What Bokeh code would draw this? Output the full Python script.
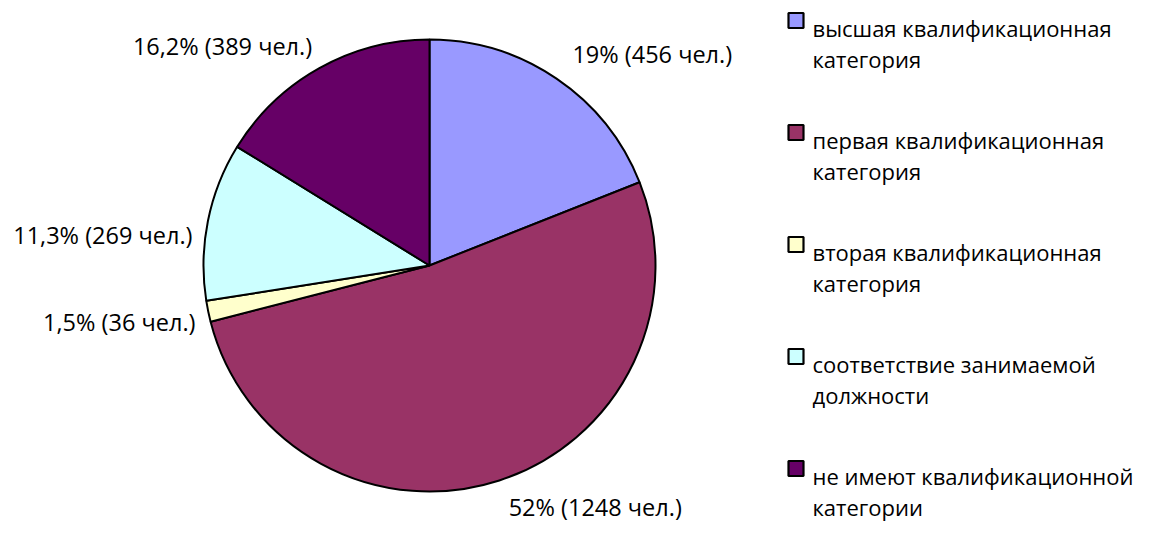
import math
from bokeh.plotting import figure
from bokeh.models import Range1d
from bokeh.core.properties import value
from bokeh.embed import file_html
from bokeh.resources import INLINE

# ---- data ----
categories = [
    "высшая квалификационная категория",
    "первая квалификационная категория",
    "вторая квалификационная категория",
    "соответствие занимаемой должности",
    "не имеют квалификационной категории",
]
percents = [19, 52, 1.5, 11.3, 16.2]
counts = [456, 1248, 36, 269, 389]
colors = ["#9999FF", "#993366", "#FFFFCC", "#CCFFFF", "#660066"]

# ---- layout ----
W, H = 1136, 524
FONT = "Open Sans"
LABEL_FS = "23.5px"
LEG_FS = "22px"


def Y(img_y):
    # convert a top-down pixel position into the plot's y coordinate
    return H - img_y


cx, cy, R = 429, Y(265), 226
label_r = 240
# per-label pixel nudges (dx, dy) from the radial anchor (data units = px)
nudges = [(8, 13.5), (5, -13), (1, -8.3), (-1.7, -16.2), (-0.4, 10.4)]

p = figure(width=W, height=H, output_backend="svg", toolbar_location=None,
           x_range=Range1d(0, W), y_range=Range1d(0, H), min_border=0)
p.axis.visible = False
p.grid.visible = False
p.outline_line_color = None
p.background_fill_color = "white"

total = sum(percents)
cum = 0.0
for i, pct in enumerate(percents):
    f0 = cum / total
    f1 = (cum + pct) / total
    cum += pct
    start = math.radians(90 - f1 * 360)
    end = math.radians(90 - f0 * 360)
    p.wedge(x=[cx], y=[cy], radius=R, start_angle=[start], end_angle=[end],
            direction="anticlock", fill_color=colors[i], line_color="black",
            line_width=2)
    mid = (start + end) / 2
    ax = cx + label_r * math.cos(mid) + nudges[i][0]
    ay = cy + label_r * math.sin(mid) + nudges[i][1]
    pct_txt = (f"{pct:g}").replace(".", ",")
    txt = f"{pct_txt}% ({counts[i]} чел.)"
    align = "left" if math.cos(mid) >= 0 else "right"
    p.text(x=[ax], y=[ay], text=[txt], text_align=align,
           text_baseline="alphabetic", text_font=value(FONT),
           text_font_size=LABEL_FS, text_color="black")

# ---- legend ----
leg_sq_x = 795.5
leg_sq_y0 = 20
leg_txt_x = 812
leg_base0 = 27.5
leg_step = 112
line_gap = 31
for i, cat in enumerate(categories):
    first, second = cat.rsplit(" ", 1)
    p.rect(x=[leg_sq_x], y=[Y(leg_sq_y0 + i * leg_step)], width=15, height=15,
           fill_color=colors[i], line_color="black", line_width=2.2)
    b1 = leg_base0 + i * leg_step
    p.text(x=[leg_txt_x], y=[Y(b1)], text=[first], text_align="left",
           text_baseline="alphabetic", text_font=value(FONT),
           text_font_size=LEG_FS, text_color="black")
    p.text(x=[leg_txt_x], y=[Y(b1 + line_gap)], text=[second],
           text_align="left", text_baseline="alphabetic",
           text_font=value(FONT), text_font_size=LEG_FS, text_color="black")

open("out.html", "w").write(file_html(p, INLINE))
